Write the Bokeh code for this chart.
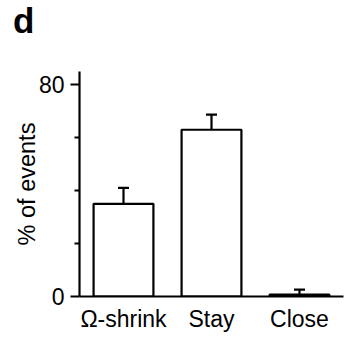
from bokeh.plotting import figure
from bokeh.models import (ColumnDataSource, FactorRange, Range1d, FixedTicker,
                          Whisker, TeeHead, Div)
from bokeh.layouts import column
from bokeh.embed import file_html
from bokeh.resources import INLINE

categories = ["Ω-shrink", "Stay", "Close"]
values = [35, 63, 0.7]
errors = [6, 5.7, 1.9]
y_ticks = [0, 80]
y_minor_ticks = [20, 40, 60]

upper = [v + e for v, e in zip(values, errors)]
src = ColumnDataSource(dict(cat=categories, val=values, upper=upper))

FONT = "Liberation Sans"

header = Div(text=('<div style="font-family: \'Liberation Sans\'; font-size: 35px; '
                   'font-weight: bold; line-height: 35px; color: black; '
                   'padding: 3px 0 0 13px; margin: 0;">d</div>'),
             width=344, height=40, margin=0)

p = figure(width=344, height=299, output_backend="svg", toolbar_location=None,
           x_range=FactorRange(factors=categories, range_padding=0),
           y_range=Range1d(0, 85),
           min_border_left=79, min_border_top=31, min_border_right=1,
           min_border_bottom=43, margin=0)
p.outline_line_color = None
p.xgrid.visible = False
p.ygrid.visible = False
p.background_fill_color = "white"
p.border_fill_color = "white"

p.vbar(x="cat", top="val", bottom=0, width=0.68, source=src,
       fill_color="white", line_color="black", line_width=2.2)

w = Whisker(base="cat", lower="val", upper="upper", source=src,
            line_color="black", line_width=2.2, lower_head=None,
            upper_head=TeeHead(size=11, line_color="black", line_width=2.2))
p.add_layout(w)

# y axis
p.yaxis.ticker = FixedTicker(ticks=y_ticks, minor_ticks=y_minor_ticks)
p.yaxis.axis_line_width = 2.2
p.yaxis.major_tick_line_width = 2.2
p.yaxis.minor_tick_line_width = 2.2
p.yaxis.major_tick_in = 0
p.yaxis.major_tick_out = 9
p.yaxis.minor_tick_in = 0
p.yaxis.minor_tick_out = 5
p.yaxis.major_label_standoff = 6
p.yaxis.major_label_text_font = FONT
p.yaxis.major_label_text_font_size = "23px"
p.yaxis.major_label_text_color = "black"
p.yaxis.axis_label = "% of events"
p.yaxis.axis_label_text_font = FONT
p.yaxis.axis_label_text_font_style = "normal"
p.yaxis.axis_label_text_font_size = "23.5px"
p.yaxis.axis_label_text_color = "black"
p.yaxis.axis_label_standoff = -4

# x axis
p.xaxis.axis_line_width = 2.2
p.xaxis.major_tick_line_color = None
p.xaxis.minor_tick_line_color = None
p.xaxis.major_tick_out = 0
p.xaxis.major_tick_in = 0
p.xaxis.major_label_standoff = 9
p.xaxis.major_label_text_font = FONT
p.xaxis.major_label_text_font_size = "23px"
p.xaxis.major_label_text_color = "black"

layout = column(header, p, spacing=0)

open("out.html", "w").write(file_html(layout, INLINE))
